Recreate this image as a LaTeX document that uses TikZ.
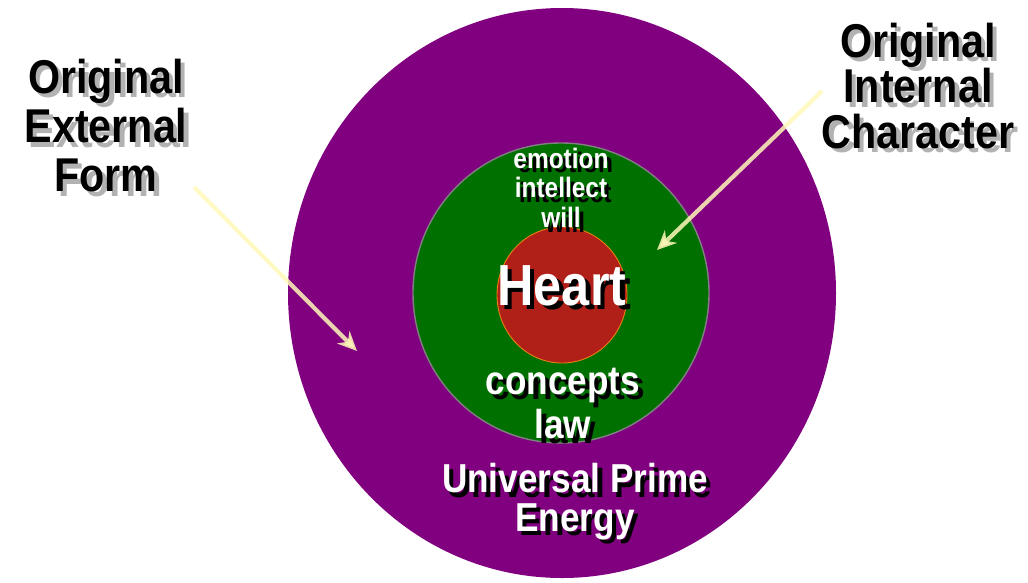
\documentclass[tikz,border=0pt]{standalone}
\usepackage{fontspec}
\newfontfamily\arl{Liberation Sans}[FakeStretch=0.87]
\usetikzlibrary{arrows.meta}
\definecolor{outerpurple}{RGB}{128,0,128}
\definecolor{ringgreen}{RGB}{0,112,0}
\definecolor{heartred}{RGB}{176,32,24}
\definecolor{pointer}{RGB}{255,248,185}
\newcommand\drop[2][black]{\rlap{\kern2.5pt\raisebox{-2.5pt}{\textcolor{#1}{#2}}}#2}

\begin{document}
\begin{tikzpicture}[x=0.02cm, y=-0.02cm,
  every node/.style={inner sep=0pt, outer sep=0pt, align=center},
  sidelabel/.style={font=\arl\bfseries\fontsize{27}{28}\selectfont, text=black},
  innertext/.style={text=white},
  pointerarrow/.style={draw=pointer, opacity=0.85, line width=2.4pt,
    -{Stealth[length=11pt, width=10pt]}}]
  \useasboundingbox (0,0) rectangle (1028,582);
  \fill[outerpurple] (562,293) ellipse (274 and 285);
  \draw[fill=ringgreen, draw=gray, line width=0.8pt] (561,293) ellipse (148 and 150);
  \draw[fill=heartred, draw=orange!70!brown, line width=0.5pt] (562,295) ellipse (65 and 68);

  \node[sidelabel] (extform) at (106,128)
    {\drop[gray!60]{Original}\\\drop[gray!60]{External}\\\drop[gray!60]{Form}};
  \node[sidelabel] (intchar) at (918,88)
    {\drop[gray!60]{Original}\\[-2pt]\drop[gray!60]{Internal}\\[-2pt]\drop[gray!60]{Character}};

  \node[innertext, font=\arl\bfseries\fontsize{16}{17}\selectfont] (faculties) at (561,190)
    {\drop{emotion}\\\drop{intellect}\\\drop{will}};
  \node[innertext, font=\arl\bfseries\fontsize{33}{33}\selectfont] (heart) at (562,288) {\drop{Heart}};
  \node[innertext, font=\arl\bfseries\fontsize{23}{23}\selectfont] (laws) at (563,406)
    {\drop{concepts}\\\drop{law}};
  \node[innertext, font=\arl\bfseries\fontsize{23}{22}\selectfont] (energy) at (575,504)
    {\drop{Universal Prime}\\\drop{Energy}};

  \coordinate (extstart) at (194,187);
  \coordinate (exttip) at (357,351);
  \coordinate (intstart) at (822,91);
  \coordinate (inttip) at (657,250);
  \draw[pointerarrow] (extstart) -- (exttip);
  \draw[pointerarrow] (intstart) -- (inttip);
\end{tikzpicture}
\end{document}
